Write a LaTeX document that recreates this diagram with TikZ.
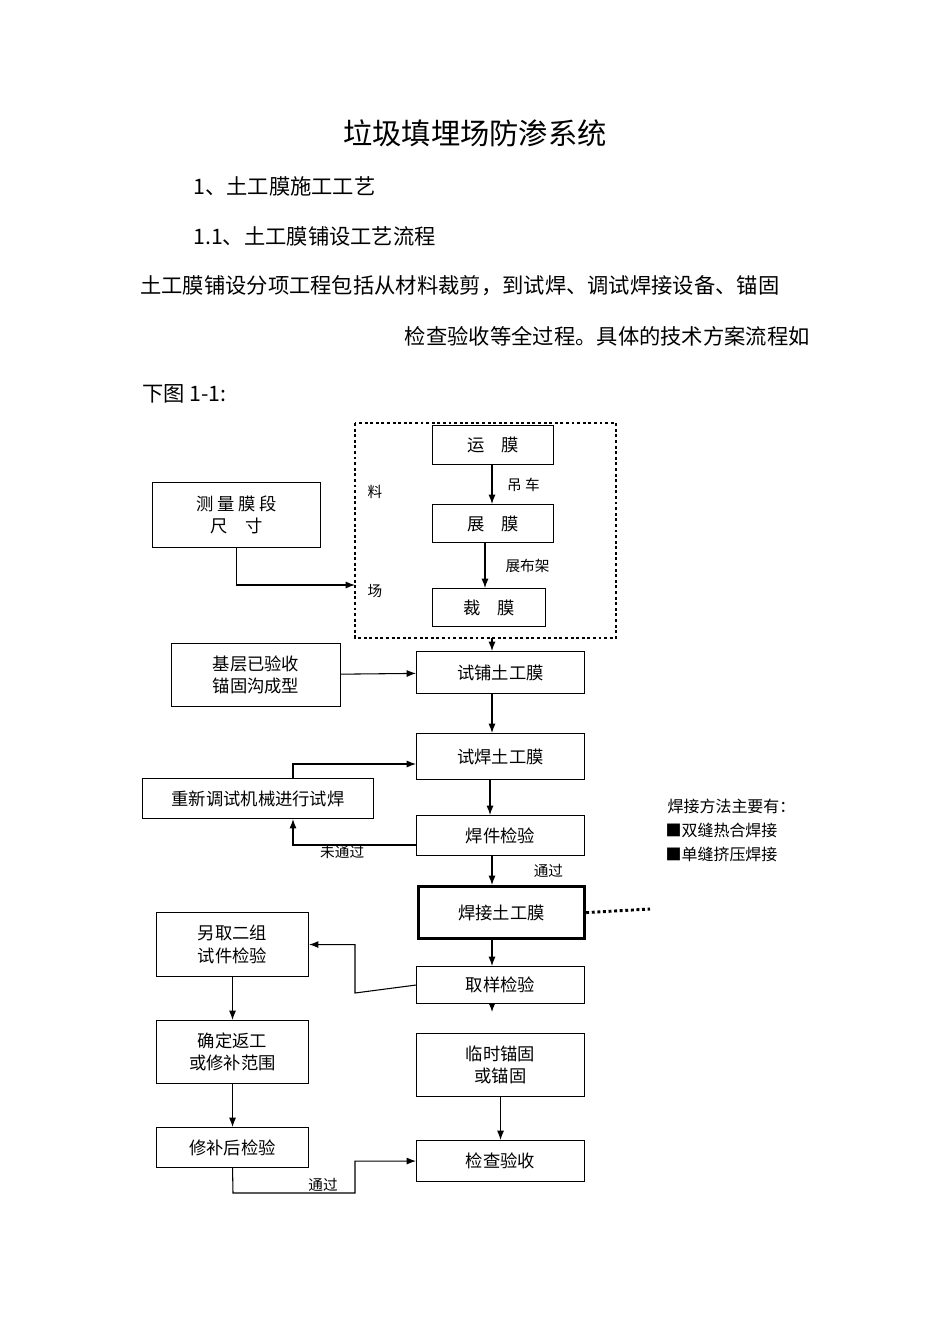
\documentclass[tikz,border=0pt]{standalone}
\usepackage{fontspec}
\setmainfont{Liberation Sans}
\newfontfamily\cjk{Noto Sans CJK SC}
\usetikzlibrary{arrows.meta}
\newcommand\pxu{0.0264cm}
\tikzset{
  box/.style={draw,thick,align=center,font=\cjk\fontsize{13}{17}\selectfont},
  lbl/.style={font=\cjk\fontsize{11}{13}\selectfont,inner sep=1pt},
  txt/.style={font=\cjk\fontsize{16}{20}\selectfont,inner sep=0pt},
  flow/.style={thick,-{Latex[length=7pt]}}
}
\begin{document}
\begin{tikzpicture}[x=0.0264cm,y=-0.0264cm]
    \useasboundingbox (0,0) rectangle (950,1344);
    % heading and text
    \node[txt,font=\cjk\fontsize{22}{26}\selectfont] (title) at (475,133) {垃圾填埋场防渗系统};
    \node[txt,anchor=west] (h1) at (193,186) {1、土工膜施工工艺};
    \node[txt,anchor=west] (h2) at (193,236) {1.1、土工膜铺设工艺流程};
    \node[txt,anchor=west] (p1) at (140,286) {土工膜铺设分项工程包括从材料裁剪，到试焊、调试焊接设备、锚固};
    \node[txt,anchor=east] (p2) at (810,336) {检查验收等全过程。具体的技术方案流程如};
    \node[txt,anchor=west] (p3) at (142,394) {下图 1-1:};
    % material yard
    \draw[line width=2.2pt,dotted] (355,423) rectangle (616,638);
    \node[box,minimum width=121*\pxu,minimum height=39*\pxu,anchor=north west] (yun) at (432,425) {运\quad 膜};
    \node[box,minimum width=121*\pxu,minimum height=38*\pxu,anchor=north west] (zhan) at (432,504) {展\quad 膜};
    \node[box,minimum width=113*\pxu,minimum height=38*\pxu,anchor=north west] (cai) at (432,588) {裁\quad 膜};
    \node[box,minimum width=168*\pxu,minimum height=65*\pxu,anchor=north west] (celiang) at (152,482) {测\ 量\ 膜\ 段\\尺\quad 寸};
    \node[lbl] (liao) at (375,492) {料};
    \node[lbl] (chang) at (375,591) {场};
    \coordinate (yardin) at (355,585);
    \coordinate (yardout) at (492,638);
    % main column
    \node[box,minimum width=168*\pxu,minimum height=42*\pxu,anchor=north west] (shipu) at (416,651) {试铺土工膜};
    \node[box,minimum width=169*\pxu,minimum height=63*\pxu,anchor=north west] (jiceng) at (171,643) {基层已验收\\锚固沟成型};
    \node[box,minimum width=168*\pxu,minimum height=46*\pxu,anchor=north west] (shihan) at (416,733) {试焊土工膜};
    \node[box,minimum width=231*\pxu,minimum height=40*\pxu,anchor=north west] (chongxin) at (142,778) {重新调试机械进行试焊};
    \node[box,minimum width=168*\pxu,minimum height=40*\pxu,anchor=north west] (hanjian) at (416,815) {焊件检验};
    \node[box,line width=2.4pt,minimum width=166*\pxu,minimum height=52*\pxu,anchor=north west] (hanjie) at (417,885) {焊接土工膜};
    \node[box,minimum width=168*\pxu,minimum height=37*\pxu,anchor=north west] (quyang) at (416,966) {取样检验};
    \node[box,minimum width=168*\pxu,minimum height=63*\pxu,anchor=north west] (linshi) at (416,1033) {临时锚固\\或锚固};
    \node[box,minimum width=168*\pxu,minimum height=41*\pxu,anchor=north west] (jiancha) at (416,1140) {检查验收};
    % side column
    \node[box,minimum width=152*\pxu,minimum height=64*\pxu,anchor=north west] (lingqu) at (156,912) {另取二组\\试件检验};
    \node[box,minimum width=152*\pxu,minimum height=63*\pxu,anchor=north west] (queding) at (156,1020) {确定返工\\或修补范围};
    \node[box,minimum width=152*\pxu,minimum height=40*\pxu,anchor=north west] (xiubu) at (156,1127) {修补后检验};
    % note
    \node[lbl,anchor=west,font=\cjk\fontsize{12}{14}\selectfont] (n1) at (666,806) {焊接方法主要有：};
    \node[lbl,anchor=west,font=\cjk\fontsize{12}{14}\selectfont] (n2) at (664,830) {■双缝热合焊接};
    \node[lbl,anchor=west,font=\cjk\fontsize{12}{14}\selectfont] (n3) at (664,854) {■单缝挤压焊接};
    \coordinate (noteend) at (650,909);
    % connectors
    \draw[flow] (yun.south -| 492,0) -- (zhan.north -| 492,0) node[lbl,midway,right=10pt] {吊\ 车};
    \draw[flow] (zhan.south -| 485,0) -- (cai.north -| 485,0) node[lbl,midway,right=14pt] {展布架};
    \draw[flow] (celiang.south) |- (yardin);
    \draw[flow] (yardout) -- (shipu.north -| yardout);
    \draw[flow] (jiceng) -- (shipu);
    \draw[flow] (shipu.south -| 492,0) -- (shihan.north -| 492,0);
    \draw[flow] (shihan.south -| 490,0) -- (hanjian.north -| 490,0);
    \draw[flow] (chongxin.north -| 293,0) |- (416,764);
    \draw[flow] (416,845) -| (chongxin.south -| 293,0) node[lbl,pos=0.3,below=-1pt] {未通过};
    \draw[flow] (hanjian.south -| 492,0) -- (hanjie.north -| 492,0) node[lbl,midway,right=30pt] {通过};
    \draw[line width=2.2pt,dotted] (hanjie.east) -- (noteend);
    \draw[flow] (hanjie.south -| 492,0) -- (quyang.north -| 492,0);
    \draw[flow] (quyang.west) -- (355,993) |- (lingqu.east);
    \draw[thick,-{Latex[length=6pt]}] (quyang.south -| 492,0) -- (492,1012);
    \draw[flow] (lingqu) -- (queding);
    \draw[flow] (queding) -- (xiubu);
    \draw[flow] (linshi) -- (jiancha);
    \draw[flow] (xiubu.south) -- (233,1193) -- (355,1193) |- (jiancha.west);
    \node[lbl] (tongguo) at (323,1185) {通过};
\end{tikzpicture}
\end{document}
